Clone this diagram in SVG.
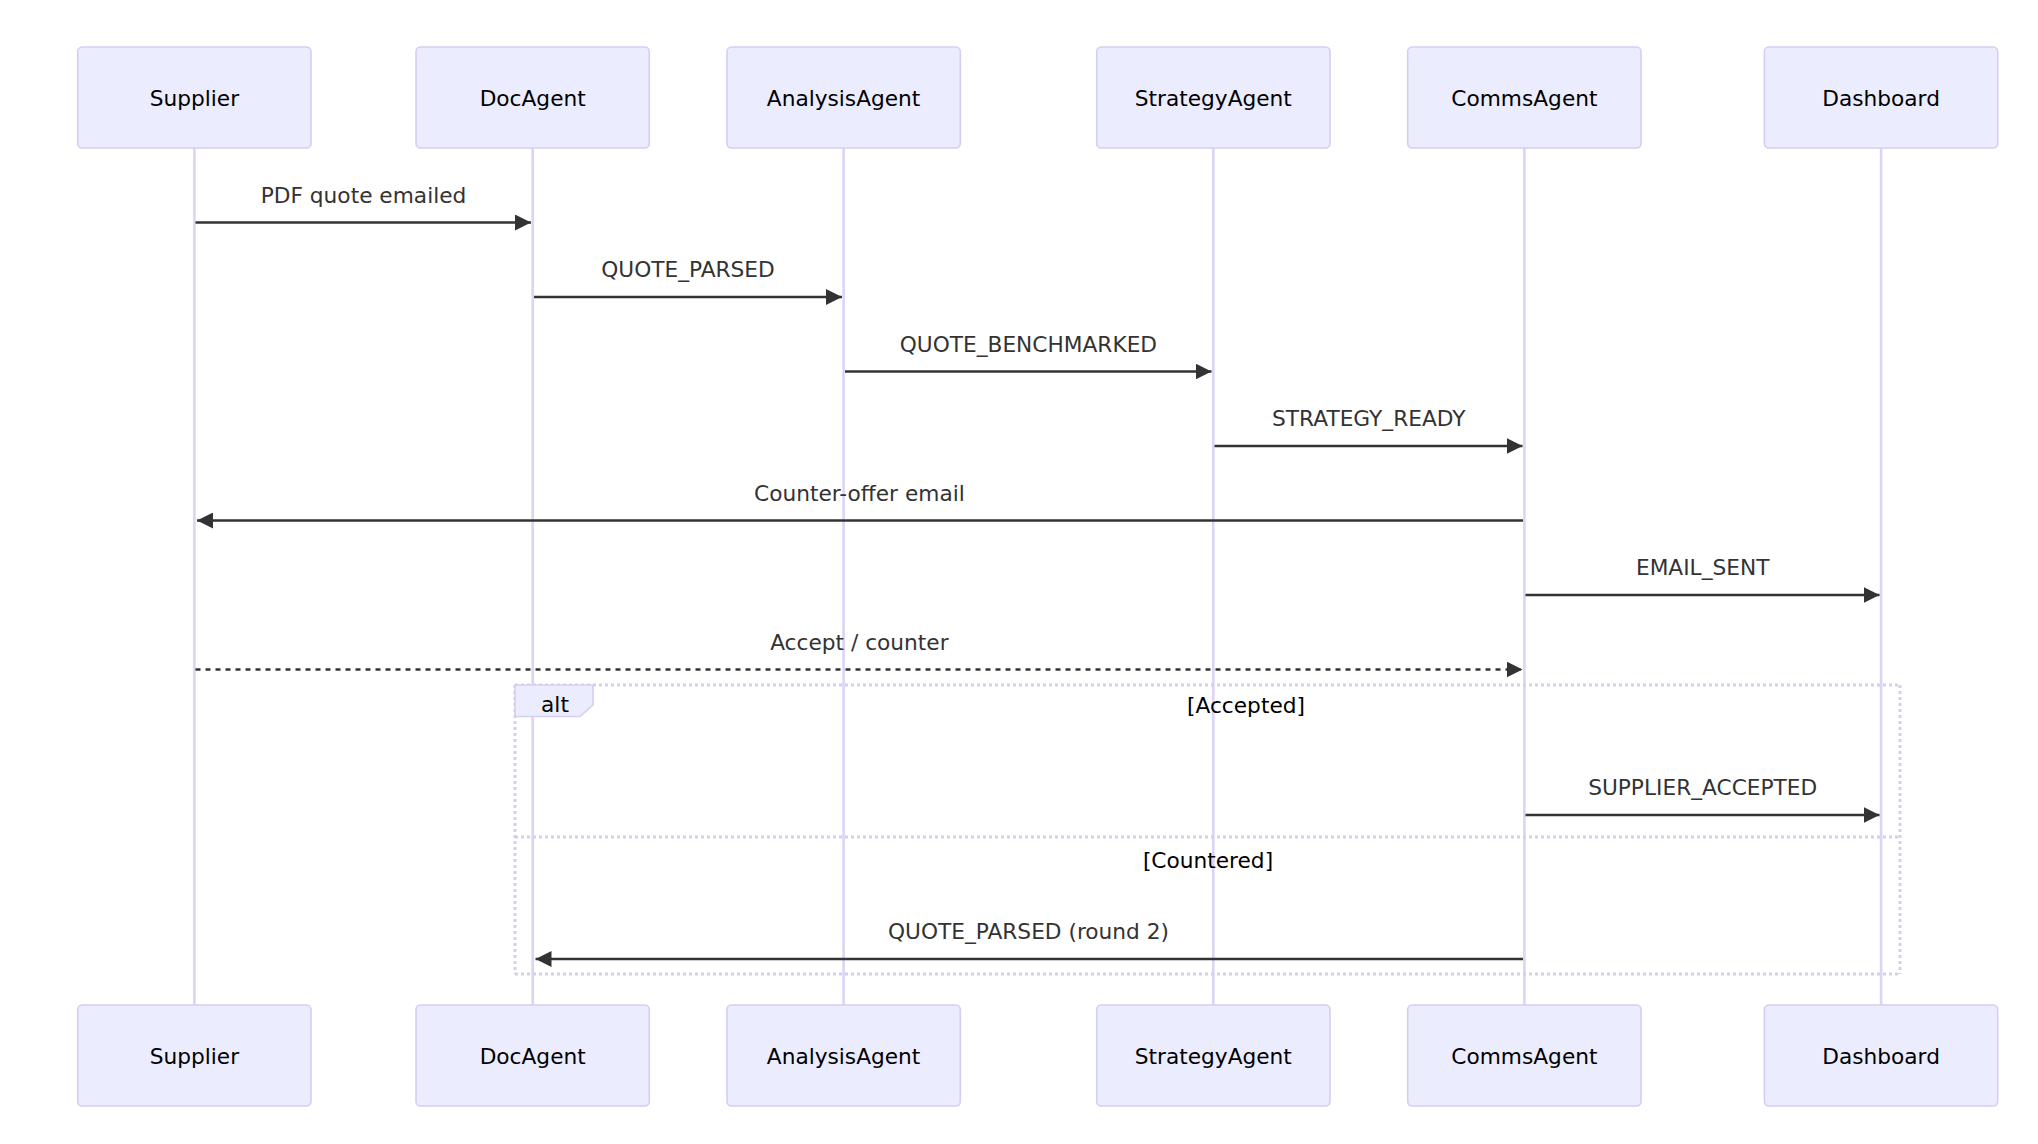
<svg xmlns="http://www.w3.org/2000/svg" width="2038" height="1144" viewBox="0 0 2038 1144">
<style>
  .actor rect { fill: #ECECFF; stroke: #D6CDF2; stroke-width: 1.6; }
  .actor text { font-family: "DejaVu Sans", Verdana, sans-serif; font-size: 21.7px; fill: #000; text-anchor: middle; }
  .lifeline { stroke: #DCD3F5; stroke-width: 2.6; }
  .msg { stroke: #333; stroke-width: 2.3; fill: none; marker-end: url(#arrowhead); }
  .dashed { stroke-dasharray: 5 5; }
  .msgText { font-family: "DejaVu Sans", Verdana, sans-serif; font-size: 21.7px; fill: #333; text-anchor: middle; }
  .loopLine { stroke: #D6CDF2; stroke-width: 3; stroke-dasharray: 3 3; fill: none; }
  .labelBox { fill: #ECECFF; stroke: #D6CDF2; stroke-width: 1.6; }
  .loopText { font-family: "DejaVu Sans", Verdana, sans-serif; font-size: 21.7px; fill: #000; text-anchor: middle; }
</style>
<defs>
  <marker id="arrowhead" viewBox="0 0 16 16" refX="16" refY="8" markerWidth="16" markerHeight="16" markerUnits="userSpaceOnUse" orient="auto">
    <path d="M0,0 L16,8 L0,16 z" fill="#333"/>
  </marker>
</defs>
<rect x="0" y="0" width="2038" height="1144" fill="#fff"/>

<g id="lifelines">
  <line class="lifeline" x1="194.4" y1="148" x2="194.4" y2="1005"/>
  <line class="lifeline" x1="532.7" y1="148" x2="532.7" y2="1005"/>
  <line class="lifeline" x1="843.6" y1="148" x2="843.6" y2="1005"/>
  <line class="lifeline" x1="1213.3" y1="148" x2="1213.3" y2="1005"/>
  <line class="lifeline" x1="1524.4" y1="148" x2="1524.4" y2="1005"/>
  <line class="lifeline" x1="1881.1" y1="148" x2="1881.1" y2="1005"/>
</g>

<g id="alt-frame">
  <line class="loopLine" x1="515" y1="685" x2="1900" y2="685"/>
  <line class="loopLine" x1="1900" y1="685" x2="1900" y2="974"/>
  <line class="loopLine" x1="515" y1="974" x2="1900" y2="974"/>
  <line class="loopLine" x1="515" y1="685" x2="515" y2="974"/>
  <line class="loopLine" x1="515" y1="837" x2="1900" y2="837"/>
  <polygon class="labelBox" points="515,685 593,685 593,705 580,716.5 515,716.5"/>
  <text class="loopText" x="555" y="711.5">alt</text>
  <text class="loopText" x="1246" y="713.3">[Accepted]</text>
  <text class="loopText" x="1208" y="867.7">[Countered]</text>
</g>

<g id="top-actors">
  <g id="actor-Supplier" class="actor"><rect x="77.7" y="47" width="233.3" height="101" rx="4.5"/><text x="194.4" y="105.5">Supplier</text></g>
  <g id="actor-DocAgent" class="actor"><rect x="416" y="47" width="233.3" height="101" rx="4.5"/><text x="532.7" y="105.5">DocAgent</text></g>
  <g id="actor-AnalysisAgent" class="actor"><rect x="727" y="47" width="233.3" height="101" rx="4.5"/><text x="843.6" y="105.5">AnalysisAgent</text></g>
  <g id="actor-StrategyAgent" class="actor"><rect x="1096.7" y="47" width="233.3" height="101" rx="4.5"/><text x="1213.3" y="105.5">StrategyAgent</text></g>
  <g id="actor-CommsAgent" class="actor"><rect x="1407.7" y="47" width="233.3" height="101" rx="4.5"/><text x="1524.4" y="105.5">CommsAgent</text></g>
  <g id="actor-Dashboard" class="actor"><rect x="1764.4" y="47" width="233.3" height="101" rx="4.5"/><text x="1881.1" y="105.5">Dashboard</text></g>
</g>

<g id="bottom-actors">
  <g id="actor-Supplier-bottom" class="actor"><rect x="77.7" y="1005" width="233.3" height="101" rx="4.5"/><text x="194.4" y="1063.5">Supplier</text></g>
  <g id="actor-DocAgent-bottom" class="actor"><rect x="416" y="1005" width="233.3" height="101" rx="4.5"/><text x="532.7" y="1063.5">DocAgent</text></g>
  <g id="actor-AnalysisAgent-bottom" class="actor"><rect x="727" y="1005" width="233.3" height="101" rx="4.5"/><text x="843.6" y="1063.5">AnalysisAgent</text></g>
  <g id="actor-StrategyAgent-bottom" class="actor"><rect x="1096.7" y="1005" width="233.3" height="101" rx="4.5"/><text x="1213.3" y="1063.5">StrategyAgent</text></g>
  <g id="actor-CommsAgent-bottom" class="actor"><rect x="1407.7" y="1005" width="233.3" height="101" rx="4.5"/><text x="1524.4" y="1063.5">CommsAgent</text></g>
  <g id="actor-Dashboard-bottom" class="actor"><rect x="1764.4" y="1005" width="233.3" height="101" rx="4.5"/><text x="1881.1" y="1063.5">Dashboard</text></g>
</g>

<g id="connectors">
  <line class="msg" x1="195.5" y1="222.5" x2="531" y2="222.5"/>
  <text class="msgText" x="363.5" y="202.5">PDF quote emailed</text>

  <line class="msg" x1="534" y1="297" x2="842" y2="297"/>
  <text class="msgText" x="688" y="277">QUOTE_PARSED</text>

  <line class="msg" x1="845" y1="371.5" x2="1211.5" y2="371.5"/>
  <text class="msgText" x="1028.4" y="351.5">QUOTE_BENCHMARKED</text>

  <line class="msg" x1="1214.5" y1="446" x2="1522.5" y2="446"/>
  <text class="msgText" x="1368.8" y="426">STRATEGY_READY</text>

  <line class="msg" x1="1523" y1="520.5" x2="197" y2="520.5"/>
  <text class="msgText" x="859.4" y="500.5">Counter-offer email</text>

  <line class="msg" x1="1525.5" y1="595" x2="1879.5" y2="595"/>
  <text class="msgText" x="1702.7" y="575">EMAIL_SENT</text>

  <line class="msg dashed" x1="195.5" y1="669.5" x2="1522.5" y2="669.5"/>
  <text class="msgText" x="859.4" y="649.5">Accept / counter</text>

  <line class="msg" x1="1525.5" y1="815" x2="1879.5" y2="815"/>
  <text class="msgText" x="1702.7" y="795">SUPPLIER_ACCEPTED</text>

  <line class="msg" x1="1523" y1="959" x2="535.5" y2="959"/>
  <text class="msgText" x="1028.5" y="939">QUOTE_PARSED (round 2)</text>
</g>
</svg>
